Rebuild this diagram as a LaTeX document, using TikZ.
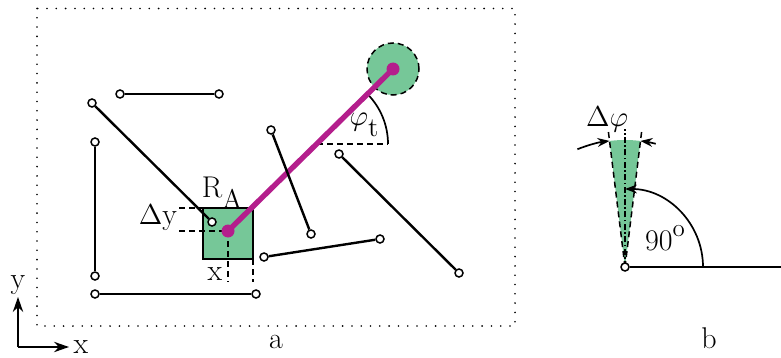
\documentclass[tikz,border=0pt]{standalone}
\usepackage{fontspec}
\usetikzlibrary{arrows.meta}
\definecolor{gfill}{RGB}{118,199,152}
\definecolor{magn}{RGB}{180,30,140}
\tikzset{
  seg/.style={line width=1.2pt, black},
  endpt/.style={circle, draw=black, fill=white, line width=0.75pt, minimum size=4pt, inner sep=0pt},
  dim/.style={line width=0.75pt, dash pattern=on 3pt off 2pt},
  lbl/.style={inner sep=0pt, font=\fontsize{15}{17}\selectfont},
  arctip/.style={line width=0.85pt, -{Stealth[length=6pt,width=4.4pt]}},
  axtip/.style={line width=0.8pt, -{Stealth[length=7.5pt,width=5.2pt]}},
}
\begin{document}
\begin{tikzpicture}[x=0.5pt,y=0.5pt]
\useasboundingbox (0,0) rectangle (781,-358);
% frame
\draw[line width=0.9pt, line cap=round, dash pattern=on 0pt off 4.65pt] (37,-8.5) rectangle (515,-326);
% axes
\coordinate (O) at (18,-347);
\coordinate (Oy) at (18,-297);
\coordinate (Ox) at (69,-347);
\draw[axtip] (O) -- (Oy);
\draw[axtip] (O) -- (Ox);
\node[lbl] (ly) at (18,-285) {y};
\node[lbl] (lx) at (81,-347) {x};
\node[lbl] (la) at (276,-342) {a};
\node[lbl] (lb) at (709,-338) {b};
% green square
\fill[gfill] (203,-208) rectangle (253,-259);
\draw[line width=0.6pt] (203,-208) rectangle (253,-259);
\coordinate (P) at (228,-231);
% dimension lines
\coordinate (d1) at (179,-208);
\coordinate (d1e) at (203,-208);
\coordinate (d2) at (179,-231);
\coordinate (d3) at (228,-282);
\coordinate (d4s) at (253,-259);
\coordinate (d4) at (253,-282);
\draw[dim] (d1) -- (d1e);
\draw[dim] (d2) -- (P);
\draw[dim] (P) -- (d3);
\draw[dim] (d4s) -- (d4);
\node[lbl] (ldy) at (158,-218) {$\Delta$y};
\node[lbl] (ldx) at (215,-274) {x};
\node[lbl] (lR) at (222,-193) {R\raisebox{-5.5pt}{\fontsize{13.5}{14}\selectfont A}};
% green circle
\coordinate (C) at (393,-69);
\fill[gfill] (C) circle[radius=26];
\draw[dim] (C) circle[radius=26];
% angle phi_t
\coordinate (I) at (317,-144);
\coordinate (Ie) at (388,-144);
\draw[dim] (I) -- (Ie);
\draw[line width=0.85pt] (Ie) arc[start angle=0, end angle=44.5, radius=71];
\node[lbl] (lphi) at (364,-125) {$\varphi$\raisebox{-5.5pt}{\fontsize{13.5}{14}\selectfont t}};
% magenta rod
\draw[magn, line width=2.7pt] (P) -- (C);
\fill[magn] (P) circle[radius=6.5];
\fill[magn] (C) circle[radius=6.5];
% segments
\node[endpt] (s1a) at (120,-94) {};
\node[endpt] (s1b) at (219,-94) {};
\node[endpt] (s2a) at (92,-103) {};
\node[endpt] (s2b) at (212,-222) {};
\node[endpt] (s3a) at (95,-142) {};
\node[endpt] (s3b) at (95,-276) {};
\node[endpt] (s4a) at (95,-294) {};
\node[endpt] (s4b) at (256,-294) {};
\node[endpt] (s5a) at (271,-130) {};
\node[endpt] (s5b) at (311,-234) {};
\node[endpt] (s6a) at (339,-154) {};
\node[endpt] (s6b) at (459,-273) {};
\node[endpt] (s7a) at (264,-257) {};
\node[endpt] (s7b) at (380,-239) {};
\draw[seg] (s1a) -- (s1b);
\draw[seg] (s2a) -- (s2b);
\draw[seg] (s3a) -- (s3b);
\draw[seg] (s4a) -- (s4b);
\draw[seg] (s5a) -- (s5b);
\draw[seg] (s6a) -- (s6b);
\draw[seg] (s7a) -- (s7b);
% part b
\coordinate (A) at (625,-267);
\coordinate (E) at (781,-267);
\fill[gfill] (A) -- ++(83:127) arc[start angle=83, end angle=97, radius=127] -- cycle;
\draw[dim] (A) -- ++(97:137);
\draw[dim] (A) -- ++(83:137);
\draw[line width=0.75pt, dash pattern=on 3pt off 1.2pt on 0.8pt off 1.2pt] (A) -- ++(90:138);
\draw[arctip] (A) ++(112:127) arc[start angle=112, end angle=97, radius=127];
\draw[arctip] (A) ++(76:127) arc[start angle=76, end angle=83, radius=127];
\draw[arctip] (A) ++(0:78) arc[start angle=0, end angle=90, radius=78];
\node[lbl] (ldphi) at (607,-119) {$\Delta\varphi$};
\node[lbl] (l90) at (665,-238) {90\raisebox{7pt}{\fontsize{12.5}{12.5}\selectfont o}};
\node[endpt] (apex) at (A) {};
\draw[seg] (apex) -- (E);
\end{tikzpicture}
\end{document}
